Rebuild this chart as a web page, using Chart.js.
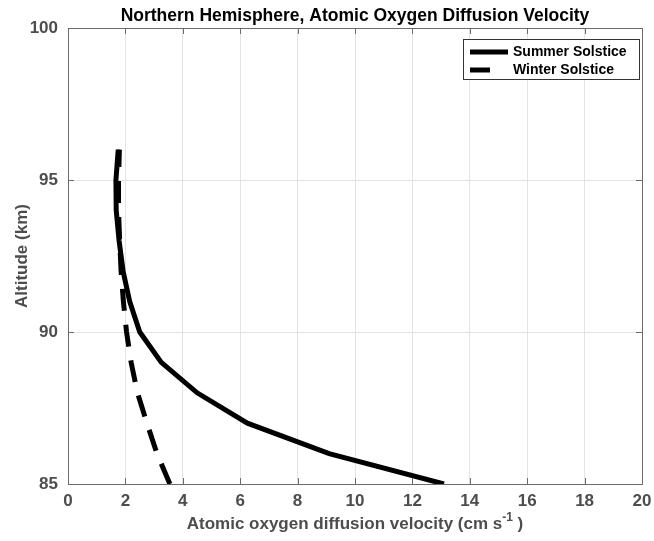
<!DOCTYPE html>
<html>
<head>
<meta charset="utf-8">
<script src="https://cdn.jsdelivr.net/npm/chart.js@4.4.1/dist/chart.umd.min.js"></script>
<style>
html,body{margin:0;padding:0;background:#fff;}
#wrap{width:654px;height:541px;position:relative;}
</style>
</head>
<body>
<div id="wrap"><canvas id="c" width="654" height="541"></canvas></div>
<script>
const altitude = [85, 86, 87, 88, 89, 90, 91, 92, 93, 94, 95, 96];
const summerVel = [13.1, 9.1, 6.25, 4.5, 3.25, 2.5, 2.15, 1.92, 1.78, 1.68, 1.67, 1.75];
const winterVel = [3.55, 3.1, 2.75, 2.42, 2.2, 2.04, 1.93, 1.85, 1.8, 1.76, 1.76, 1.79];
const seriesNames = ['Summer Solstice', 'Winter Solstice'];
const xTicks = [0, 2, 4, 6, 8, 10, 12, 14, 16, 18, 20];
const yTicks = [85, 90, 95, 100];
const titleText = 'Northern Hemisphere, Atomic Oxygen Diffusion Velocity';
const xTitle = 'Atomic oxygen diffusion velocity (cm s';
const xTitleSup = '-1';
const xTitleEnd = ' )';
const yTitle = 'Altitude (km)';

const FONT = '"Liberation Sans", Arial, sans-serif';
const TXT = '#4d4d4d';
const AXIS = '#6b6b6b';

const toPts = (xs) => xs.map((v, i) => ({x: v, y: altitude[i]}));

const decor = {
  id: 'decor',
  afterDraw(chart) {
    const ctx = chart.ctx;
    const a = chart.chartArea;
    const xs = chart.scales.x, ys = chart.scales.y;
    ctx.save();
    // inward ticks
    ctx.strokeStyle = AXIS; ctx.lineWidth = 1;
    ctx.beginPath();
    xTicks.forEach(v => {
      const px = Math.round(xs.getPixelForValue(v)) + 0.5;
      ctx.moveTo(px, a.bottom); ctx.lineTo(px, a.bottom - 6);
      ctx.moveTo(px, a.top); ctx.lineTo(px, a.top + 6);
    });
    yTicks.forEach(v => {
      const py = Math.round(ys.getPixelForValue(v)) + 0.5;
      ctx.moveTo(a.left, py); ctx.lineTo(a.left + 6, py);
      ctx.moveTo(a.right, py); ctx.lineTo(a.right - 6, py);
    });
    ctx.stroke();
    // box
    ctx.strokeRect(Math.round(a.left) + 0.5, Math.round(a.top) + 0.5, Math.round(a.right - a.left), Math.round(a.bottom - a.top));
    // title
    ctx.fillStyle = '#000';
    ctx.font = 'bold 17.5px ' + FONT;
    ctx.textAlign = 'center'; ctx.textBaseline = 'middle';
    ctx.fillText(titleText, (a.left + a.right) / 2, 16);
    // x title with superscript
    ctx.fillStyle = TXT;
    ctx.font = 'bold 17px ' + FONT;
    const w1 = ctx.measureText(xTitle).width;
    ctx.font = 'bold 12px ' + FONT;
    const w2 = ctx.measureText(xTitleSup).width;
    ctx.font = 'bold 17px ' + FONT;
    const w3 = ctx.measureText(xTitleEnd).width;
    let x0 = (a.left + a.right) / 2 - (w1 + w2 + w3) / 2;
    const yb = 529;
    ctx.textAlign = 'left'; ctx.textBaseline = 'alphabetic';
    ctx.fillText(xTitle, x0, yb);
    ctx.font = 'bold 12px ' + FONT;
    ctx.fillText(xTitleSup, x0 + w1, yb - 8);
    ctx.font = 'bold 17px ' + FONT;
    ctx.fillText(xTitleEnd, x0 + w1 + w2, yb);
    // y title
    ctx.save();
    ctx.translate(22, (a.top + a.bottom) / 2);
    ctx.rotate(-Math.PI / 2);
    ctx.textAlign = 'center'; ctx.textBaseline = 'middle';
    ctx.fillText(yTitle, 0, 0);
    ctx.restore();
    // legend
    const lx = a.right - 179, ly = a.top + 11, lw = 176, lh = 40;
    ctx.fillStyle = '#fff';
    ctx.fillRect(lx, ly, lw, lh);
    ctx.strokeStyle = '#333'; ctx.lineWidth = 1;
    ctx.strokeRect(lx + 0.5, ly + 0.5, lw, lh);
    ctx.strokeStyle = '#000'; ctx.lineWidth = 5; ctx.lineCap = 'butt';
    ctx.beginPath(); ctx.moveTo(lx + 7, ly + 13); ctx.lineTo(lx + 45, ly + 13); ctx.stroke();
    ctx.beginPath(); ctx.moveTo(lx + 7, ly + 31); ctx.lineTo(lx + 27, ly + 31); ctx.stroke();
    ctx.fillStyle = '#000';
    ctx.font = 'bold 14px ' + FONT;
    ctx.textAlign = 'left'; ctx.textBaseline = 'middle';
    ctx.fillText(seriesNames[0], lx + 50, ly + 13);
    ctx.fillText(seriesNames[1], lx + 50, ly + 31);
    ctx.restore();
  }
};

new Chart(document.getElementById('c'), {
  type: 'scatter',
  data: {
    datasets: [
      {label: seriesNames[0], data: toPts(summerVel), showLine: true, borderColor: '#000', backgroundColor: '#000', borderWidth: 5, pointRadius: 0, fill: false, tension: 0},
      {label: seriesNames[1], data: toPts(winterVel), showLine: true, borderColor: '#000', backgroundColor: '#000', borderWidth: 5, borderDash: [22, 14], pointRadius: 0, fill: false, tension: 0}
    ]
  },
  options: {
    responsive: false,
    animation: false,
    devicePixelRatio: 1,
    layout: {padding: {top: 28, right: 12, left: 0, bottom: 0}},
    plugins: {legend: {display: false}, title: {display: false}, tooltip: {enabled: false}},
    scales: {
      x: {
        type: 'linear', min: 0, max: 20,
        afterBuildTicks: (s) => { s.ticks = xTicks.map(v => ({value: v})); },
        afterFit: (s) => { s.height = 57; s.paddingLeft = 0; s.paddingRight = 0; },
        grid: {color: '#e3e3e3', drawTicks: false},
        border: {display: false},
        ticks: {color: TXT, font: {family: FONT, size: 17, weight: 'bold'}, padding: 7, maxRotation: 0}
      },
      y: {
        type: 'linear', min: 85, max: 100,
        afterBuildTicks: (s) => { s.ticks = yTicks.map(v => ({value: v})); },
        afterFit: (s) => { s.width = 68; s.paddingTop = 0; s.paddingBottom = 0; },
        grid: {color: '#e3e3e3', drawTicks: false},
        border: {display: false},
        ticks: {color: TXT, font: {family: FONT, size: 17, weight: 'bold'}, padding: 10}
      }
    }
  },
  plugins: [decor]
});
</script>
</body>
</html>
